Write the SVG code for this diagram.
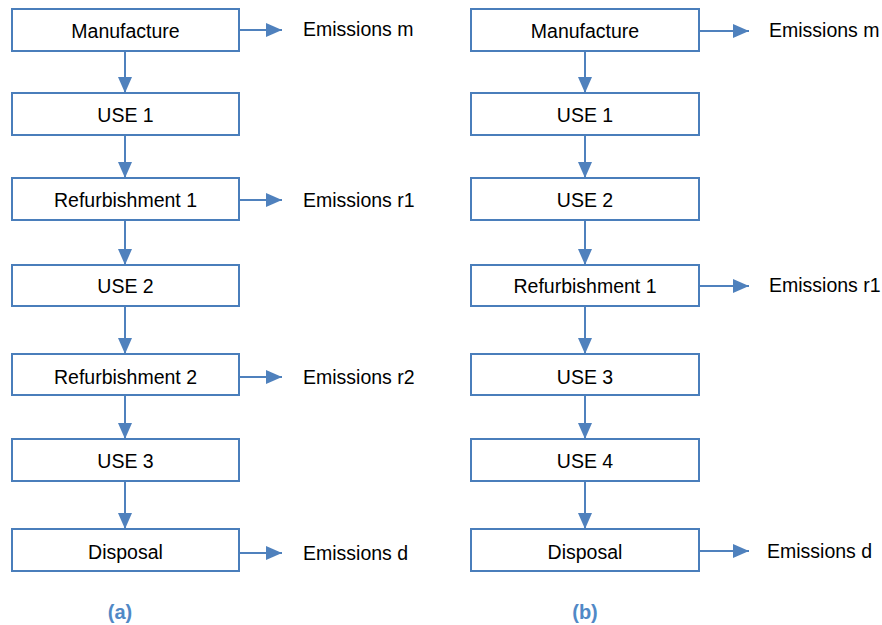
<svg xmlns="http://www.w3.org/2000/svg" width="882" height="625" viewBox="0 0 882 625">
  <defs>
    <marker id="arrow" viewBox="0 0 16 14" refX="16" refY="7" markerWidth="16" markerHeight="14" markerUnits="userSpaceOnUse" orient="auto">
      <path d="M0,0 L16,7 L0,14 Z" fill="#4f81bd"/>
    </marker>
    <style>
      .box { fill: #ffffff; stroke: #4a7ebb; stroke-width: 2; }
      .lbl { font-family: "Liberation Sans", Arial, sans-serif; font-size: 19.5px; fill: #000000; }
      .mid { text-anchor: middle; }
      .edge { stroke: #4f81bd; stroke-width: 2; fill: none; marker-end: url(#arrow); }
      .cap { font-family: "Liberation Sans", Arial, sans-serif; font-size: 20px; font-weight: bold; fill: #5089c6; text-anchor: middle; }
    </style>
  </defs>

  <!-- Connectors -->
  <g id="connectors">
    <!-- column (a) flow -->
    <line class="edge" x1="125" y1="51" x2="125" y2="93"/>
    <line class="edge" x1="125" y1="135" x2="125" y2="178"/>
    <line class="edge" x1="125" y1="220" x2="125" y2="265"/>
    <line class="edge" x1="125" y1="306" x2="125" y2="354"/>
    <line class="edge" x1="125" y1="395" x2="125" y2="439"/>
    <line class="edge" x1="125" y1="481" x2="125" y2="529"/>
    <!-- column (a) emissions -->
    <line class="edge" x1="240" y1="30" x2="282" y2="30"/>
    <line class="edge" x1="240" y1="200" x2="282" y2="200"/>
    <line class="edge" x1="240" y1="377" x2="282" y2="377"/>
    <line class="edge" x1="240" y1="553" x2="282" y2="553"/>
    <!-- column (b) flow -->
    <line class="edge" x1="585" y1="51" x2="585" y2="93"/>
    <line class="edge" x1="585" y1="135" x2="585" y2="178"/>
    <line class="edge" x1="585" y1="220" x2="585" y2="265"/>
    <line class="edge" x1="585" y1="306" x2="585" y2="354"/>
    <line class="edge" x1="585" y1="395" x2="585" y2="439"/>
    <line class="edge" x1="585" y1="481" x2="585" y2="529"/>
    <!-- column (b) emissions -->
    <line class="edge" x1="700" y1="31" x2="749" y2="31"/>
    <line class="edge" x1="700" y1="286" x2="749" y2="286"/>
    <line class="edge" x1="700" y1="551" x2="749" y2="551"/>
  </g>

  <!-- Column (a) nodes -->
  <g id="a-manufacture"><rect class="box" x="12" y="9" width="227" height="42"/><text class="lbl mid" x="125.5" y="38">Manufacture</text></g>
  <g id="a-use1"><rect class="box" x="12" y="93" width="227" height="42"/><text class="lbl mid" x="125.5" y="122">USE 1</text></g>
  <g id="a-refurb1"><rect class="box" x="12" y="178" width="227" height="42"/><text class="lbl mid" x="125.5" y="207">Refurbishment 1</text></g>
  <g id="a-use2"><rect class="box" x="12" y="265" width="227" height="41"/><text class="lbl mid" x="125.5" y="293">USE 2</text></g>
  <g id="a-refurb2"><rect class="box" x="12" y="354" width="227" height="41"/><text class="lbl mid" x="125.5" y="384">Refurbishment 2</text></g>
  <g id="a-use3"><rect class="box" x="12" y="439" width="227" height="42"/><text class="lbl mid" x="125.5" y="468">USE 3</text></g>
  <g id="a-disposal"><rect class="box" x="12" y="529" width="227" height="42"/><text class="lbl mid" x="125.5" y="559">Disposal</text></g>

  <g id="a-em-m"><text class="lbl" x="303" y="36">Emissions m</text></g>
  <g id="a-em-r1"><text class="lbl" x="303" y="207">Emissions r1</text></g>
  <g id="a-em-r2"><text class="lbl" x="303" y="384">Emissions r2</text></g>
  <g id="a-em-d"><text class="lbl" x="303" y="560">Emissions d</text></g>

  <!-- Column (b) nodes -->
  <g id="b-manufacture"><rect class="box" x="471" y="9" width="228" height="42"/><text class="lbl mid" x="585" y="38">Manufacture</text></g>
  <g id="b-use1"><rect class="box" x="471" y="93" width="228" height="42"/><text class="lbl mid" x="585" y="122">USE 1</text></g>
  <g id="b-use2"><rect class="box" x="471" y="178" width="228" height="42"/><text class="lbl mid" x="585" y="207">USE 2</text></g>
  <g id="b-refurb1"><rect class="box" x="471" y="265" width="228" height="41"/><text class="lbl mid" x="585" y="293">Refurbishment 1</text></g>
  <g id="b-use3"><rect class="box" x="471" y="354" width="228" height="41"/><text class="lbl mid" x="585" y="384">USE 3</text></g>
  <g id="b-use4"><rect class="box" x="471" y="439" width="228" height="42"/><text class="lbl mid" x="585" y="468">USE 4</text></g>
  <g id="b-disposal"><rect class="box" x="471" y="529" width="228" height="42"/><text class="lbl mid" x="585" y="559">Disposal</text></g>

  <g id="b-em-m"><text class="lbl" x="769" y="37">Emissions m</text></g>
  <g id="b-em-r1"><text class="lbl" x="769" y="292">Emissions r1</text></g>
  <g id="b-em-d"><text class="lbl" x="767" y="558">Emissions d</text></g>

  <!-- Panel captions -->
  <text class="cap" x="120" y="619">(a)</text>
  <text class="cap" x="585" y="619">(b)</text>
</svg>
